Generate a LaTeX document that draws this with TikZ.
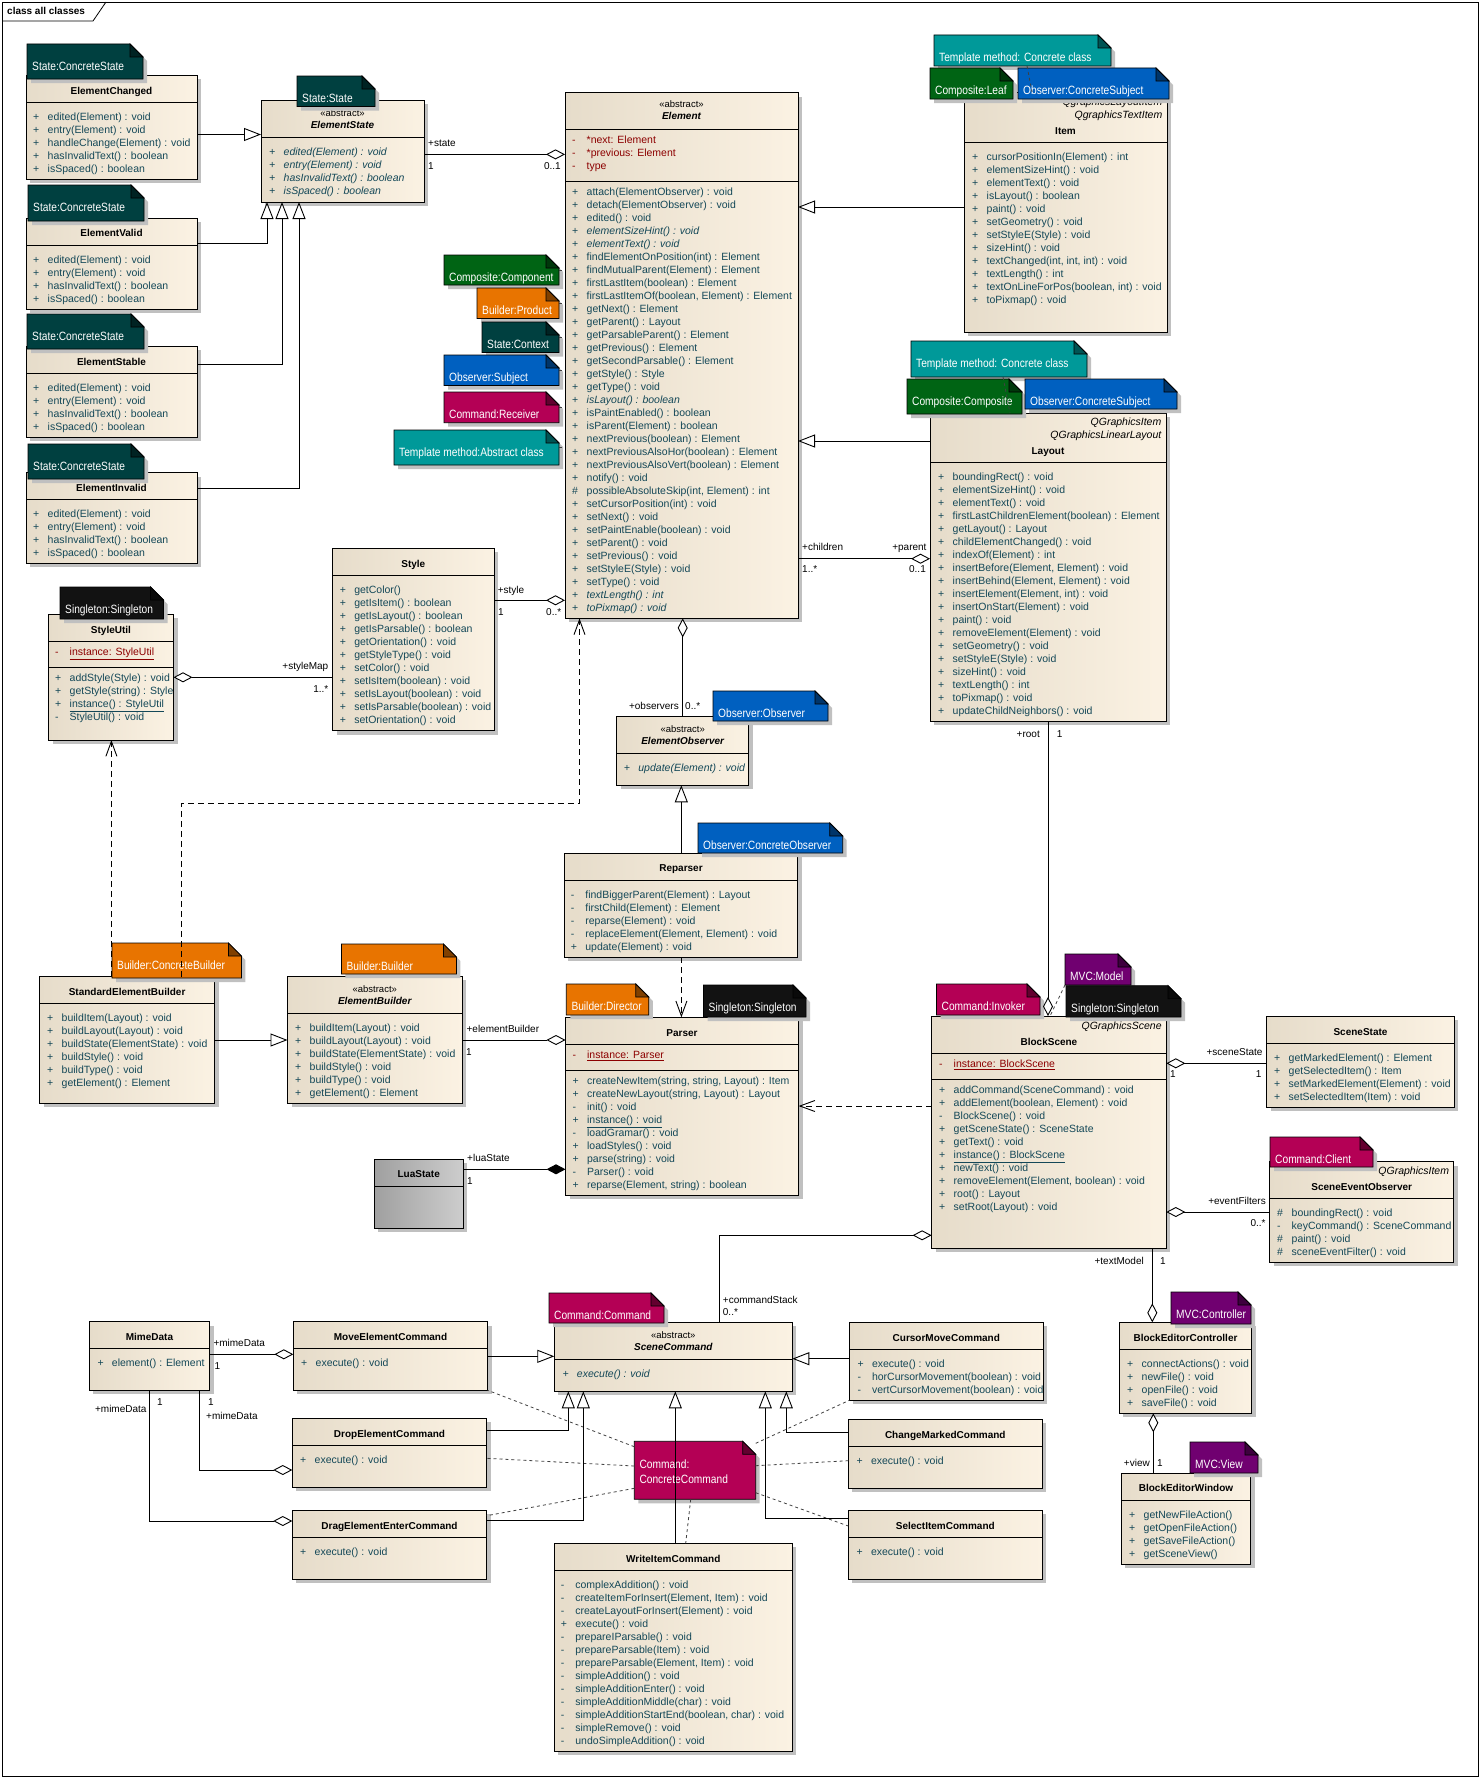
\documentclass[tikz,border=0pt]{standalone}
\usepackage{fontspec}
\setmainfont{Liberation Sans}
\newfontfamily\notefont[FakeStretch=0.85]{Liberation Sans}
\usetikzlibrary{arrows.meta,fit,shadows}

\definecolor{clsleft}{RGB}{230,220,202}
\definecolor{clsright}{RGB}{251,242,227}
\definecolor{lualeft}{RGB}{160,160,160}
\definecolor{luaright}{RGB}{205,205,205}
\definecolor{shadowgray}{RGB}{192,192,192}
\definecolor{memcol}{RGB}{20,72,88}
\definecolor{attrcol}{RGB}{140,0,0}
\definecolor{statecol}{RGB}{0,64,64}
\definecolor{templcol}{RGB}{0,153,153}
\definecolor{compcol}{RGB}{0,100,20}
\definecolor{obscol}{RGB}{0,96,192}
\definecolor{buildcol}{RGB}{232,116,0}
\definecolor{cmdcol}{RGB}{180,0,85}
\definecolor{singlcol}{RGB}{18,18,18}
\definecolor{mvccol}{RGB}{112,0,112}

% member list: visibility column + text column
\newenvironment{memtab}{\begin{tabular}[t]{@{}p{14.5pt}@{}l@{}}}{\end{tabular}}

% compartment line across a class box
\newcommand{\umlsep}[2]{\draw[line width=0.9pt] (#1.west |- 0,#2) -- (#1.east |- 0,#2);}
% class box: [extra style]{name}{top left}{bottom right}{header line}
\newcommand{\umlclass}[5][]{%
  \node[classbox, #1, fit={(#3) (#4)}] (#2) {};
  \umlsep{#2}{#5}}
% note with folded corner: {name}{top left}{bottom right}{colour}{text}
\newcommand{\umlnote}[5]{%
  \node[inner sep=0pt, outer sep=0pt, fit={(#2) (#3)}] (#1) {};
  \begin{scope}[transform canvas={xshift=4pt, yshift=-4pt}]
    \fill[shadowgray] (#1.south west) -- (#1.north west) -- ([xshift=-13pt]#1.north east)
      -- ([yshift=-13pt]#1.north east) -- (#1.south east) -- cycle;
  \end{scope}
  \filldraw[fill=#4, line width=0.8pt] (#1.south west) -- (#1.north west) -- ([xshift=-13pt]#1.north east)
    -- ([yshift=-13pt]#1.north east) -- (#1.south east) -- cycle;
  \filldraw[fill=#4!55!black, line width=0.8pt] ([xshift=-13pt]#1.north east)
    -- ([xshift=-13pt, yshift=-13pt]#1.north east) -- ([yshift=-13pt]#1.north east) -- cycle;
  \node[notetext] (#1-txt) at ([xshift=5pt, yshift=-26.8pt]#1.north west) {#5};}

\tikzset{
  classbox/.style={draw, line width=0.9pt, left color=clsleft, right color=clsright,
    inner sep=0pt, outer sep=0pt,
    drop shadow={shadow xshift=4pt, shadow yshift=-4pt, fill=shadowgray, opacity=1}},
  luabox/.style={left color=lualeft, right color=luaright},
  clsname/.style={anchor=base, yshift=-3.6pt, inner sep=0pt, font=\bfseries\fontsize{10}{12}\selectfont},
  absname/.style={clsname, font=\bfseries\itshape\fontsize{10}{12}\selectfont},
  stereo/.style={anchor=base, yshift=-3.3pt, inner sep=0pt, font=\fontsize{9.5}{11}\selectfont},
  basecls/.style={anchor=base east, xshift=-4.5pt, yshift=-3.6pt, inner sep=0pt, font=\itshape\fontsize{10.5}{12}\selectfont},
  members/.style={anchor=base west, yshift=-3.7pt, inner sep=0pt, text=memcol, font=\fontsize{10.5}{13}\selectfont},
  italicmem/.style={members, font=\itshape\fontsize{10.5}{13}\selectfont},
  attrs/.style={members, text=attrcol},
  notetext/.style={anchor=base west, inner sep=0pt, text=white, font=\notefont\fontsize{12}{15.6}\selectfont},
  lbl/.style={anchor=base west, yshift=-3.6pt, inner sep=0pt, font=\fontsize{10}{12}\selectfont},
  lblr/.style={lbl, anchor=base east},
  genarrow/.style={line width=0.9pt, -{Triangle[length=17pt, width=13pt, fill=white]}},
  aggr/.style={line width=0.9pt, {Diamond[length=19pt, width=10pt, fill=white]}-},
  compo/.style={line width=0.9pt, {Diamond[length=19pt, width=10pt]}-},
  dep/.style={line width=0.9pt, dash pattern=on 6pt off 4pt, -{Straight Barb[length=15pt, width=11pt]}},
  notelink/.style={line width=0.8pt, black!75, dash pattern=on 3pt off 3pt}
}

\begin{document}
\begin{tikzpicture}[x=1pt, y=-1pt]
\useasboundingbox (0,0) rectangle (1480,1777);

% diagram frame
\draw[line width=0.8pt] (2,2) rectangle (1478,1776);
\draw[line width=0.8pt] (2,21) -- (93,21) -- (106,2);
\node[anchor=west, inner sep=0pt, font=\bfseries\fontsize{10}{12}\selectfont] (frameTitle) at (7,11) {class all classes};

% state classes
\umlclass{ElementChanged}{26,75}{197,179}{102.5}
\node[clsname] (ecName) at (ElementChanged.north |- 0,91) {ElementChanged};
\node[members] (ecOps) at (33,117) {\begin{memtab}
+ & edited(Element) : void\\
+ & entry(Element) : void\\
+ & handleChange(Element) : void\\
+ & hasInvalidText() : boolean\\
+ & isSpaced() : boolean
\end{memtab}};

\umlclass{ElementValid}{26,218}{197,309}{245}
\node[clsname] (evName) at (ElementValid.north |- 0,233) {ElementValid};
\node[members] (evOps) at (33,259.5) {\begin{memtab}
+ & edited(Element) : void\\
+ & entry(Element) : void\\
+ & hasInvalidText() : boolean\\
+ & isSpaced() : boolean
\end{memtab}};

\umlclass{ElementStable}{26,346}{197,437}{373}
\node[clsname] (estName) at (ElementStable.north |- 0,362) {ElementStable};
\node[members] (estOps) at (33,387.5) {\begin{memtab}
+ & edited(Element) : void\\
+ & entry(Element) : void\\
+ & hasInvalidText() : boolean\\
+ & isSpaced() : boolean
\end{memtab}};

\umlclass{ElementInvalid}{26,472.6}{197,563.4}{499.5}
\node[clsname] (eiName) at (ElementInvalid.north |- 0,487.5) {ElementInvalid};
\node[members] (eiOps) at (33,513.6) {\begin{memtab}
+ & edited(Element) : void\\
+ & entry(Element) : void\\
+ & hasInvalidText() : boolean\\
+ & isSpaced() : boolean
\end{memtab}};

\umlclass{ElementState}{261,100}{424,202}{137}
\node[stereo] (esStereo) at (ElementState.north |- 0,113) {«abstract»};
\node[absname] (esName) at (ElementState.north |- 0,125) {ElementState};
\node[italicmem] (esOps) at (269,151.6) {\begin{memtab}
+ & edited(Element) : void\\
+ & entry(Element) : void\\
+ & hasInvalidText() : boolean\\
+ & isSpaced() : boolean
\end{memtab}};

% Element
\umlclass{Element}{565,92.6}{798,618.4}{129.5}
\umlsep{Element}{181.7}
\node[stereo] (elStereo) at (Element.north |- 0,104.5) {«abstract»};
\node[absname] (elName) at (Element.north |- 0,116) {Element};
\node[attrs] (elAttrs) at (572,139.6) {\begin{memtab}
- & *next:  Element\\
- & *previous:  Element\\
- & type
\end{memtab}};
\node[members] (elOps) at (572,191.5) {\begin{memtab}
+ & attach(ElementObserver) : void\\
+ & detach(ElementObserver) : void\\
+ & edited() : void\\
+ & \textit{elementSizeHint() : void}\\
+ & \textit{elementText() : void}\\
+ & findElementOnPosition(int) : Element\\
+ & findMutualParent(Element) : Element\\
+ & firstLastItem(boolean) : Element\\
+ & firstLastItemOf(boolean, Element) : Element\\
+ & getNext() : Element\\
+ & getParent() : Layout\\
+ & getParsableParent() : Element\\
+ & getPrevious() : Element\\
+ & getSecondParsable() : Element\\
+ & getStyle() : Style\\
+ & getType() : void\\
+ & \textit{isLayout() : boolean}\\
+ & isPaintEnabled() : boolean\\
+ & isParent(Element) : boolean\\
+ & nextPrevious(boolean) : Element\\
+ & nextPreviousAlsoHor(boolean) : Element\\
+ & nextPreviousAlsoVert(boolean) : Element\\
+ & notify() : void\\
\# & possibleAbsoluteSkip(int, Element) : int\\
+ & setCursorPosition(int) : void\\
+ & setNext() : void\\
+ & setPaintEnable(boolean) : void\\
+ & setParent() : void\\
+ & setPrevious() : void\\
+ & setStyleE(Style) : void\\
+ & setType() : void\\
+ & \textit{textLength() : int}\\
+ & \textit{toPixmap() : void}
\end{memtab}};

% Item and Layout
\umlclass{Item}{964,92}{1167,332}{142}
\node[basecls] (itemBaseA) at (Item.east |- 0,102) {QgraphicsLayoutItem};
\node[basecls] (itemBaseB) at (Item.east |- 0,115) {QgraphicsTextItem};
\node[clsname] (itemName) at (Item.north |- 0,131) {Item};
\node[members] (itemOps) at (972,156.7) {\begin{memtab}
+ & cursorPositionIn(Element) : int\\
+ & elementSizeHint() : void\\
+ & elementText() : void\\
+ & isLayout() : boolean\\
+ & paint() : void\\
+ & setGeometry() : void\\
+ & setStyleE(Style) : void\\
+ & sizeHint() : void\\
+ & textChanged(int, int, int) : void\\
+ & textLength() : int\\
+ & textOnLineForPos(boolean, int) : void\\
+ & toPixmap() : void
\end{memtab}};

\umlclass{Layout}{930,413}{1166,721}{462}
\node[basecls] (layBaseA) at (Layout.east |- 0,422) {QGraphicsItem};
\node[basecls] (layBaseB) at (Layout.east |- 0,435) {QGraphicsLinearLayout};
\node[clsname] (layName) at (Layout.north |- 0,451) {Layout};
\node[members] (layOps) at (938,476.7) {\begin{memtab}
+ & boundingRect() : void\\
+ & elementSizeHint() : void\\
+ & elementText() : void\\
+ & firstLastChildrenElement(boolean) : Element\\
+ & getLayout() : Layout\\
+ & childElementChanged() : void\\
+ & indexOf(Element) : int\\
+ & insertBefore(Element, Element) : void\\
+ & insertBehind(Element, Element) : void\\
+ & insertElement(Element, int) : void\\
+ & insertOnStart(Element) : void\\
+ & paint() : void\\
+ & removeElement(Element) : void\\
+ & setGeometry() : void\\
+ & setStyleE(Style) : void\\
+ & sizeHint() : void\\
+ & textLength() : int\\
+ & toPixmap() : void\\
+ & updateChildNeighbors() : void
\end{memtab}};

% Style and StyleUtil
\umlclass{Style}{332.6,548.3}{494,730.7}{575.3}
\node[clsname] (styleName) at (Style.north |- 0,563.7) {Style};
\node[members] (styleOps) at (339.6,589.7) {\begin{memtab}
+ & getColor()\\
+ & getIsItem() : boolean\\
+ & getIsLayout() : boolean\\
+ & getIsParsable() : boolean\\
+ & getOrientation() : void\\
+ & getStyleType() : void\\
+ & setColor() : void\\
+ & setIsItem(boolean) : void\\
+ & setIsLayout(boolean) : void\\
+ & setIsParsable(boolean) : void\\
+ & setOrientation() : void
\end{memtab}};

\umlclass{StyleUtil}{48.5,614}{173.5,740}{641}
\umlsep{StyleUtil}{667}
\node[clsname] (suName) at (StyleUtil.north |- 0,629.7) {StyleUtil};
\node[attrs] (suAttrs) at (55,651.7) {\begin{memtab}
- & \underline{instance:  StyleUtil}
\end{memtab}};
\node[members] (suOps) at (55,677.7) {\begin{memtab}
+ & addStyle(Style) : void\\
+ & getStyle(string) : Style\\
+ & \underline{instance() : StyleUtil}\\
- & StyleUtil() : void
\end{memtab}};

% observers
\umlclass{ElementObserver}{616.7,716.7}{748.7,785.3}{753.7}
\node[stereo] (eoStereo) at (ElementObserver.north |- 0,729) {«abstract»};
\node[absname] (eoName) at (ElementObserver.north |- 0,740.7) {ElementObserver};
\node[italicmem] (eoOps) at (623.7,767.7) {\begin{memtab}
+ & update(Element) : void
\end{memtab}};

\umlclass{Reparser}{564.3,853.3}{797.7,957.3}{880.3}
\node[clsname] (repName) at (Reparser.north |- 0,868.3) {Reparser};
\node[members] (repOps) at (570.7,895) {\begin{memtab}
- & findBiggerParent(Element) : Layout\\
- & firstChild(Element) : Element\\
- & reparse(Element) : void\\
- & replaceElement(Element, Element) : void\\
+ & update(Element) : void
\end{memtab}};

% builders
\umlclass{StdBuilder}{39.6,976.7}{214.6,1103.3}{1003.3}
\node[clsname] (sbName) at (StdBuilder.north |- 0,991.7) {StandardElementBuilder};
\node[members] (sbOps) at (47,1017.7) {\begin{memtab}
+ & buildItem(Layout) : void\\
+ & buildLayout(Layout) : void\\
+ & buildState(ElementState) : void\\
+ & buildStyle() : void\\
+ & buildType() : void\\
+ & getElement() : Element
\end{memtab}};

\umlclass{ElementBuilder}{287.5,976.3}{462,1103.3}{1013.3}
\node[stereo] (ebStereo) at (ElementBuilder.north |- 0,989) {«abstract»};
\node[absname] (ebName) at (ElementBuilder.north |- 0,1000.7) {ElementBuilder};
\node[members] (ebOps) at (295,1027.7) {\begin{memtab}
+ & buildItem(Layout) : void\\
+ & buildLayout(Layout) : void\\
+ & buildState(ElementState) : void\\
+ & buildStyle() : void\\
+ & buildType() : void\\
+ & getElement() : Element
\end{memtab}};

\umlclass[luabox]{LuaState}{374.3,1159.3}{463.2,1228.3}{1186.3}
\node[clsname] (luaName) at (LuaState.north |- 0,1174) {LuaState};

% Parser
\umlclass{Parser}{565.5,1017.3}{798.6,1195.3}{1044.3}
\umlsep{Parser}{1070}
\node[clsname] (parName) at (Parser.north |- 0,1032.7) {Parser};
\node[attrs] (parAttrs) at (572.4,1055) {\begin{memtab}
- & \underline{instance:  Parser}
\end{memtab}};
\node[members] (parOps) at (572.4,1080.7) {\begin{memtab}
+ & createNewItem(string, string, Layout) : Item\\
+ & createNewLayout(string, Layout) : Layout\\
- & init() : void\\
+ & \underline{instance() : void}\\
- & loadGramar() : void\\
+ & loadStyles() : void\\
+ & parse(string) : void\\
- & Parser() : void\\
+ & reparse(Element, string) : boolean
\end{memtab}};

% scene
\umlclass{BlockScene}{931.6,1016}{1166.3,1248.3}{1053.3}
\umlsep{BlockScene}{1079}
\node[basecls] (bsBase) at (BlockScene.east |- 0,1025.7) {QGraphicsScene};
\node[clsname] (bsName) at (BlockScene.north |- 0,1041.7) {BlockScene};
\node[attrs] (bsAttrs) at (939,1063.7) {\begin{memtab}
- & \underline{instance:  BlockScene}
\end{memtab}};
\node[members] (bsOps) at (939,1089.7) {\begin{memtab}
+ & addCommand(SceneCommand) : void\\
+ & addElement(boolean, Element) : void\\
- & BlockScene() : void\\
+ & getSceneState() : SceneState\\
+ & getText() : void\\
+ & \underline{instance() : BlockScene}\\
+ & newText() : void\\
+ & removeElement(Element, boolean) : void\\
+ & root() : Layout\\
+ & setRoot(Layout) : void
\end{memtab}};

\umlclass{SceneState}{1266.7,1016.3}{1454.3,1107.3}{1043.3}
\node[clsname] (ssName) at (SceneState.north |- 0,1031.7) {SceneState};
\node[members] (ssOps) at (1274,1057.7) {\begin{memtab}
+ & getMarkedElement() : Element\\
+ & getSelectedItem() : Item\\
+ & setMarkedElement(Element) : void\\
+ & setSelectedItem(Item) : void
\end{memtab}};

\umlclass{SceneEventObserver}{1269.7,1161.7}{1453.7,1262.3}{1198.3}
\node[basecls] (seoBase) at (SceneEventObserver.east |- 0,1170.7) {QGraphicsItem};
\node[clsname] (seoName) at (SceneEventObserver.north |- 0,1186.7) {SceneEventObserver};
\node[members] (seoOps) at (1277,1212.7) {\begin{memtab}
\# & boundingRect() : void\\
- & keyCommand() : SceneCommand\\
\# & paint() : void\\
\# & sceneEventFilter() : void
\end{memtab}};

% commands
\umlclass{MimeData}{89.3,1321.7}{209.7,1390.3}{1348.7}
\node[clsname] (mdName) at (MimeData.north |- 0,1336.7) {MimeData};
\node[members] (mdOps) at (97.3,1362.7) {\begin{memtab}
+ & element() : Element
\end{memtab}};

\umlclass{MoveCmd}{293.3,1321.7}{487.7,1390.3}{1348.7}
\node[clsname] (mvName) at (MoveCmd.north |- 0,1336.7) {MoveElementCommand};
\node[members] (mvOps) at (301,1362.7) {\begin{memtab}
+ & execute() : void
\end{memtab}};

\umlclass{DropCmd}{292.3,1418.3}{486.7,1487.3}{1445.3}
\node[clsname] (drName) at (DropCmd.north |- 0,1433.7) {DropElementCommand};
\node[members] (drOps) at (300,1459.7) {\begin{memtab}
+ & execute() : void
\end{memtab}};

\umlclass{DragCmd}{292.3,1510}{486.7,1579}{1537.3}
\node[clsname] (dgName) at (DragCmd.north |- 0,1525.7) {DragElementEnterCommand};
\node[members] (dgOps) at (300,1551.7) {\begin{memtab}
+ & execute() : void
\end{memtab}};

\umlclass{SceneCommand}{554.3,1322.3}{792.3,1391.3}{1359.3}
\node[stereo] (scStereo) at (SceneCommand.north |- 0,1334.7) {«abstract»};
\node[absname] (scName) at (SceneCommand.north |- 0,1346.7) {SceneCommand};
\node[italicmem] (scOps) at (562.3,1373.7) {\begin{memtab}
+ & execute() : void
\end{memtab}};

\umlclass{CursorMove}{849.3,1322.3}{1043.3,1400.3}{1349.3}
\node[clsname] (cmName) at (CursorMove.north |- 0,1337.7) {CursorMoveCommand};
\node[members] (cmOps) at (857.3,1363.7) {\begin{memtab}
+ & execute() : void\\
- & horCursorMovement(boolean) : void\\
- & vertCursorMovement(boolean) : void
\end{memtab}};

\umlclass{ChangeMarked}{848.3,1419.3}{1042.3,1488.3}{1446.3}
\node[clsname] (chName) at (ChangeMarked.north |- 0,1434.7) {ChangeMarkedCommand};
\node[members] (chOps) at (856.3,1460.7) {\begin{memtab}
+ & execute() : void
\end{memtab}};

\umlclass{SelectItem}{848.3,1510.3}{1042.3,1579.3}{1537.3}
\node[clsname] (siName) at (SelectItem.north |- 0,1525.7) {SelectItemCommand};
\node[members] (siOps) at (856.3,1551.7) {\begin{memtab}
+ & execute() : void
\end{memtab}};

\umlclass{WriteItem}{554.3,1543.3}{792.3,1751.3}{1570}
\node[clsname] (wiName) at (WriteItem.north |- 0,1558.7) {WriteItemCommand};
\node[members] (wiOps) at (560.7,1584.7) {\begin{memtab}
- & complexAddition() : void\\
- & createItemForInsert(Element, Item) : void\\
- & createLayoutForInsert(Element) : void\\
+ & execute() : void\\
- & prepareIParsable() : void\\
- & prepareParsable(Item) : void\\
- & prepareParsable(Element, Item) : void\\
- & simpleAddition() : void\\
- & simpleAdditionEnter() : void\\
- & simpleAdditionMiddle(char) : void\\
- & simpleAdditionStartEnd(boolean, char) : void\\
- & simpleRemove() : void\\
- & undoSimpleAddition() : void
\end{memtab}};

% MVC
\umlclass{Controller}{1119.3,1322.3}{1251.7,1413.3}{1349.7}
\node[clsname] (ctName) at (Controller.north |- 0,1337.7) {BlockEditorController};
\node[members] (ctOps) at (1127,1363.3) {\begin{memtab}
+ & connectActions() : void\\
+ & newFile() : void\\
+ & openFile() : void\\
+ & saveFile() : void
\end{memtab}};

\umlclass{Window}{1121.3,1473.3}{1250.7,1564.3}{1500.3}
\node[clsname] (wnName) at (Window.north |- 0,1488.3) {BlockEditorWindow};
\node[members] (wnOps) at (1129,1514.7) {\begin{memtab}
+ & getNewFileAction()\\
+ & getOpenFileAction()\\
+ & getSaveFileAction()\\
+ & getSceneView()
\end{memtab}};

% pattern notes
\umlnote{nEC}{27,44}{143,79}{statecol}{State:ConcreteState}
\umlnote{nES}{297,76}{375,106.5}{statecol}{State:State}
\umlnote{nEV}{28,185}{144,221}{statecol}{State:ConcreteState}
\umlnote{nEStab}{27,314}{144,349}{statecol}{State:ConcreteState}
\umlnote{nEI}{28,444}{144,479}{statecol}{State:ConcreteState}
\umlnote{nComp}{444,255}{559,285}{compcol}{Composite:Component}
\umlnote{nProd}{477,288}{559,318.5}{buildcol}{Builder:Product}
\umlnote{nCtx}{482,322}{559,352.5}{statecol}{State:Context}
\umlnote{nSubj}{444,355}{559,385.5}{obscol}{Observer:Subject}
\umlnote{nRecv}{444,392}{559,422.7}{cmdcol}{Command:Receiver}
\umlnote{nAbs}{394,430}{559,465}{templcol}{Template method:Abstract class}
\umlnote{nItemTpl}{934,35}{1111,66}{templcol}{Template method: Concrete class}
\umlnote{nLeaf}{930,68}{1013,99}{compcol}{Composite:Leaf}
\umlnote{nItemSubj}{1018,68}{1169,99}{obscol}{Observer:ConcreteSubject}
\umlnote{nLayTpl}{911,341}{1087,377}{templcol}{Template method: Concrete class}
\umlnote{nCompo}{907,379}{1022,414}{compcol}{Composite:Composite}
\umlnote{nLaySubj}{1025,379}{1177,409}{obscol}{Observer:ConcreteSubject}
\umlnote{nSUSingle}{60,587}{163.5,619}{singlcol}{Singleton:Singleton}
\umlnote{nObs}{713,691}{828,721}{obscol}{Observer:Observer}
\umlnote{nConcObs}{698,823}{842.7,853}{obscol}{Observer:ConcreteObserver}
\umlnote{nCB}{112,943}{241.4,978}{buildcol}{Builder:ConcreteBuilder}
\umlnote{nBuilder}{341.4,944}{456.4,974}{buildcol}{Builder:Builder}
\umlnote{nDirector}{566.3,984}{648.8,1015}{buildcol}{Builder:Director}
\umlnote{nPSingle}{703.5,985}{806,1017}{singlcol}{Singleton:Singleton}
\umlnote{nInvoker}{936.5,984}{1040,1015}{cmdcol}{Command:Invoker}
\umlnote{nModel}{1065,954}{1131,985}{mvccol}{MVC:Model}
\umlnote{nBSSingle}{1066,985.7}{1181,1017}{singlcol}{Singleton:Singleton}
\umlnote{nClient}{1270,1137}{1373,1167}{cmdcol}{Command:Client}
\umlnote{nCmd}{549,1293}{664,1323}{cmdcol}{Command:Command}
\umlnote{nConcCmd}{634.3,1441.3}{755.7,1499.3}{cmdcol}{\begin{tabular}[t]{@{}l@{}}Command:\\ConcreteCommand\end{tabular}}
\umlnote{nCtrl}{1171,1292}{1251,1324}{mvccol}{MVC:Controller}
\umlnote{nView}{1190,1442}{1258,1473}{mvccol}{MVC:View}

% note links
\draw[notelink] (nComp.east) -- (Element.west |- nComp.east);
\draw[notelink] (nProd.east) -- (Element.west |- nProd.east);
\draw[notelink] (nCtx.east) -- (Element.west |- nCtx.east);
\draw[notelink] (nSubj.east) -- (Element.west |- nSubj.east);
\draw[notelink] (nRecv.east) -- (Element.west |- nRecv.east);
\draw[notelink] (nAbs.east) -- (Element.west |- nAbs.east);
\draw[notelink] (nItemTpl.south -| 1027,0) -- (Item.north -| 1032,0);
\draw[notelink] (nLayTpl.south -| 1003,0) -- (Layout.north -| 1010,0);
\draw[notelink] (nModel.south west) -- (BlockScene.north -| 1050,0);
\draw[notelink] (nConcCmd.west |- 0,1446.7) -- (MoveCmd.south east);
\draw[notelink] (nConcCmd.west |- 0,1466) -- (DropCmd.east |- 0,1458.3);
\draw[notelink] (nConcCmd.west |- 0,1488.3) -- (DragCmd.east |- 0,1515.7);
\draw[notelink] (nConcCmd.east |- 0,1443.3) -- (CursorMove.south west);
\draw[notelink] (nConcCmd.east |- 0,1465.7) -- (ChangeMarked.west |- 0,1460.7);
\draw[notelink] (nConcCmd.east |- 0,1492.7) -- (SelectItem.west |- 0,1526);
\draw[notelink] (nConcCmd.south -| 690.7,0) -- (WriteItem.north -| 685.7,0);

% generalizations
\draw[genarrow] (ElementChanged.east |- 0,134.5) -- (ElementState.west |- 0,134.5);
\draw[genarrow] (ElementValid.east |- 0,243) -| (ElementState.south -| 267,0);
\draw[genarrow] (ElementStable.east |- 0,364) -| (ElementState.south -| 282,0);
\draw[genarrow] (ElementInvalid.east |- 0,488) -| (ElementState.south -| 299,0);
\draw[genarrow] (Item.west |- 0,207) -- (Element.east |- 0,207);
\draw[genarrow] (Layout.west |- 0,441) -- (Element.east |- 0,441);
\draw[genarrow] (Reparser.north -| 681.3,0) -- (ElementObserver.south -| 681.3,0);
\draw[genarrow] (StdBuilder.east |- 0,1040) -- (ElementBuilder.west |- 0,1040);
\draw[genarrow] (MoveCmd.east |- 0,1356.3) -- (SceneCommand.west |- 0,1356.3);
\draw[genarrow] (DropCmd.east |- 0,1430.3) -| (SceneCommand.south -| 568.3,0);
\draw[genarrow] (DragCmd.east |- 0,1520) -| (SceneCommand.south -| 583.3,0);
\draw[genarrow] (WriteItem.north -| 675.3,0) -- (SceneCommand.south -| 675.3,0);
\draw[genarrow] (SelectItem.west |- 0,1518) -| (SceneCommand.south -| 765.3,0);
\draw[genarrow] (ChangeMarked.west |- 0,1432.3) -| (SceneCommand.south -| 786.3,0);
\draw[genarrow] (CursorMove.west |- 0,1358.7) -- (SceneCommand.east |- 0,1358.7);

% aggregations and composition
\draw[aggr] (Element.west |- 0,154.4) -- (ElementState.east |- 0,154.4);
\draw[aggr] (Element.west |- 0,600.3) -- (Style.east |- 0,600.3);
\draw[aggr] (StyleUtil.east |- 0,677.3) -- (Style.west |- 0,677.3);
\draw[aggr] (Layout.west |- 0,558.7) -- (Element.east |- 0,558.7);
\draw[aggr] (Element.south -| 682.7,0) -- (ElementObserver.north -| 682.7,0);
\draw[aggr] (BlockScene.north -| 1048,0) -- (Layout.south -| 1048,0);
\draw[aggr] (Parser.west |- 0,1040) -- (ElementBuilder.east |- 0,1040);
\draw[compo] (Parser.west |- 0,1169.3) -- (LuaState.east |- 0,1169.3);
\draw[aggr] (BlockScene.east |- 0,1063.3) -- (SceneState.west |- 0,1063.3);
\draw[aggr] (BlockScene.east |- 0,1212) -- (SceneEventObserver.west |- 0,1212);
\draw[aggr] (BlockScene.west |- 0,1235.3) -| (SceneCommand.north -| 719.7,0);
\draw[aggr] (Controller.north -| 1152.3,0) -- (BlockScene.south -| 1152.3,0);
\draw[aggr] (Controller.south -| 1153.3,0) -- (Window.north -| 1153.3,0);
\draw[aggr] (MoveCmd.west |- 0,1354.3) -- (MimeData.east |- 0,1354.3);
\draw[aggr] (DropCmd.west |- 0,1470) -| (MimeData.south -| 199.3,0);
\draw[aggr] (DragCmd.west |- 0,1521) -| (MimeData.south -| 149.3,0);

% dependencies
\draw[dep] (StdBuilder.north -| 111.4,0) -- (StyleUtil.south -| 111.4,0);
\draw[dep] (StdBuilder.north -| 181.6,0) |- (579.5,803.3) -- (Element.south -| 579.5,0);
\draw[dep] (Reparser.south -| 681.4,0) -- (Parser.north -| 681.4,0);
\draw[dep] (BlockScene.west |- 0,1106) -- (Parser.east |- 0,1106);

% role names and multiplicities
\node[lbl] (stateRole) at (428,143) {+state};
\node[lbl] (stateMultA) at (428,166) {1};
\node[lblr] (stateMultB) at (561,166) {0..1};
\node[lbl] (styleRole) at (497.6,589.7) {+style};
\node[lbl] (styleMultA) at (498,611.7) {1};
\node[lbl] (styleMultB) at (546,611.7) {0..*};
\node[lblr] (styleMapRole) at (328.5,665.7) {+styleMap};
\node[lblr] (styleMapMult) at (328.5,689) {1..*};
\node[lbl] (childRole) at (802,546.7) {+children};
\node[lbl] (childMult) at (802,569) {1..*};
\node[lblr] (parentRole) at (926.7,546.7) {+parent};
\node[lblr] (parentMult) at (926,569) {0..1};
\node[lblr] (obsRole) at (679,705.7) {+observers};
\node[lbl] (obsMult) at (685,705.7) {0..*};
\node[lblr] (rootRole) at (1040,734) {+root};
\node[lbl] (rootMult) at (1056.7,734) {1};
\node[lbl] (builderRole) at (466.4,1028.7) {+elementBuilder};
\node[lbl] (builderMult) at (466,1051.7) {1};
\node[lbl] (luaRole) at (467,1157.7) {+luaState};
\node[lbl] (luaMult) at (467,1180.7) {1};
\node[lblr] (sceneStateRole) at (1262.7,1051.7) {+sceneState};
\node[lbl] (sceneStateMultA) at (1170,1074) {1};
\node[lblr] (sceneStateMultB) at (1261.7,1074) {1};
\node[lblr] (filterRole) at (1266,1201) {+eventFilters};
\node[lblr] (filterMult) at (1265.7,1223.3) {0..*};
\node[lblr] (textModelRole) at (1144,1260.7) {+textModel};
\node[lbl] (textModelMult) at (1160,1260.7) {1};
\node[lbl] (stackRole) at (722.7,1300) {+commandStack};
\node[lbl] (stackMult) at (722.7,1311.7) {0..*};
\node[lbl] (moveRole) at (213.3,1342.7) {+mimeData};
\node[lbl] (moveMult) at (214.3,1365.7) {1};
\node[lbl] (dropMult) at (208,1402.3) {1};
\node[lbl] (dropRole) at (206,1415.7) {+mimeData};
\node[lblr] (dragRole) at (146.7,1408.7) {+mimeData};
\node[lbl] (dragMult) at (157,1402.3) {1};
\node[lblr] (viewRole) at (1150,1462.7) {+view};
\node[lbl] (viewMult) at (1157,1462.7) {1};
\end{tikzpicture}
\end{document}
